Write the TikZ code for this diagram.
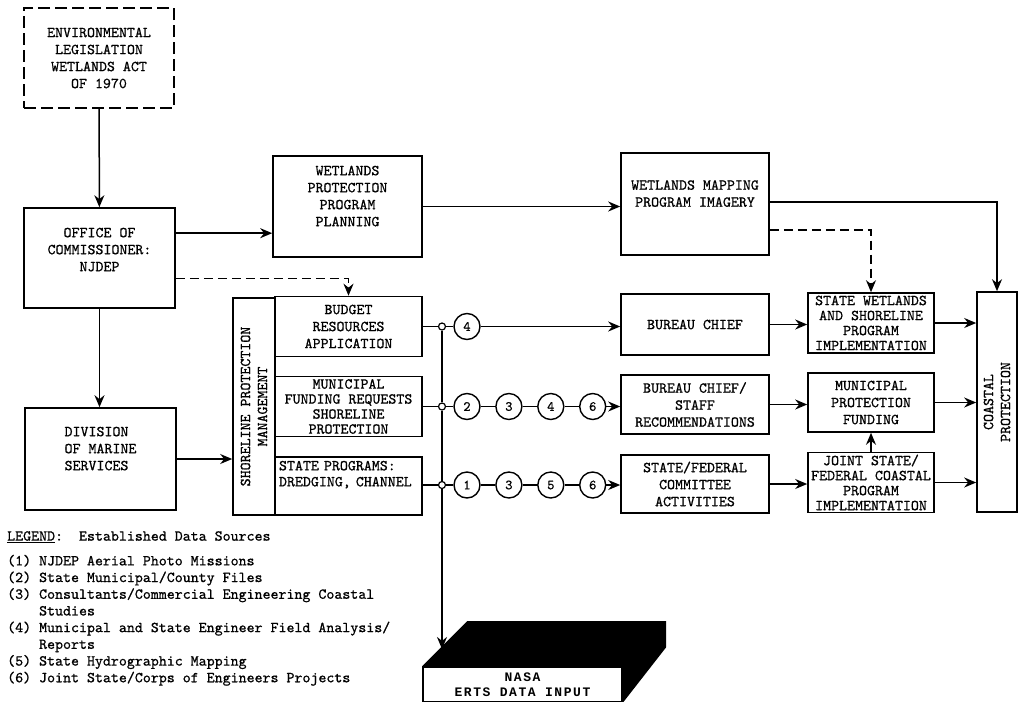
\documentclass[tikz,border=0pt]{standalone}
\usepackage{fontspec}
\setmonofont{lmmono10-regular}[Extension=.otf, FakeBold=0.8]
\newfontfamily\nasafont[LetterSpace=12]{Liberation Mono}
\usetikzlibrary{positioning,arrows.meta,calc}
\newcommand{\boxfont}{\ttfamily\fontsize{15.2}{17}\selectfont}
\newcommand{\tightfont}{\ttfamily\fontsize{15.2}{15}\selectfont}
\tikzset{
  box/.style={draw, line width=1.6pt, align=center, inner sep=2pt, font=\boxfont},
  tightbox/.style={box, font=\tightfont, inner xsep=1pt},
  vbox/.style={box, rotate=90},
  src/.style={circle, draw, line width=1.4pt, minimum size=26pt, inner sep=0pt,
              font=\ttfamily\fontsize{14}{14}\selectfont},
  jn/.style={circle, draw, fill=white, line width=1.2pt, minimum size=7pt, inner sep=0pt},
  edge/.style={-{Stealth[length=12pt,width=10pt]}, line width=1.5pt},
  plain/.style={line width=1.5pt},
  dashedge/.style={edge, dash pattern=on 9pt off 5pt}
}
\begin{document}
\begin{tikzpicture}[x=1pt,y=-1pt]
  \useasboundingbox (0,0) rectangle (1021,702);
  % left column
  \node[box, dash pattern=on 12pt off 5pt, minimum width=150pt, minimum height=100pt] (env) at (99,58)
    {ENVIRONMENTAL\\LEGISLATION\\WETLANDS ACT\\OF 1970};
  \node[box, minimum width=151pt, minimum height=100pt] (office) at (99.5,258)
    {OFFICE OF\\COMMISSIONER:\\NJDEP\\[0pt]};
  \node[box, align=left, minimum width=151pt, minimum height=102pt] (division) at (100.5,459)
    {DIVISION\\OF MARINE\\SERVICES\\[4pt]};
  % shoreline management block
  \node[vbox, minimum width=217pt, minimum height=42pt] (shore) at (254,406.5)
    {SHORELINE PROTECTION\\MANAGEMENT};
  \node[box, minimum width=147pt, minimum height=60pt] (budget) at (348.5,326.5)
    {BUDGET\\RESOURCES\\APPLICATION};
  \node[tightbox, minimum width=147pt, minimum height=60pt] (munreq) at (348.5,406.5)
    {MUNICIPAL\\FUNDING REQUESTS\\SHORELINE\\PROTECTION};
  \node[box, font=\ttfamily\fontsize{15.2}{16}\selectfont, align=left, text width=139pt, inner xsep=4pt,
        minimum height=58pt] (stprog) at (348.5,486)
    {STATE PROGRAMS:\\DREDGING, CHANNEL\\[4pt]\strut};
  \node[box, minimum width=149pt, minimum height=101pt] (wprot) at (347.5,206.5)
    {WETLANDS\\PROTECTION\\PROGRAM\\PLANNING\\[4pt]};
  % bureau column
  \node[box, minimum width=148pt, minimum height=102pt] (wmap) at (695,204)
    {WETLANDS MAPPING\\PROGRAM IMAGERY\\[4pt]};
  \node[box, minimum width=148pt, minimum height=61pt] (bureau) at (695,324.5) {BUREAU CHIEF};
  \node[box, minimum width=148pt, minimum height=59pt] (bstaff) at (695,404.5)
    {BUREAU CHIEF/\\STAFF\\RECOMMENDATIONS};
  \node[box, minimum width=148pt, minimum height=58pt] (sfcom) at (695,484)
    {STATE/FEDERAL\\COMMITTEE\\ACTIVITIES};
  % implementation column
  \node[tightbox, minimum width=126pt, minimum height=60pt] (swet) at (871,323)
    {STATE WETLANDS\\AND SHORELINE\\PROGRAM\\IMPLEMENTATION};
  \node[box, minimum width=126pt, minimum height=59pt] (munfund) at (871,402.5)
    {MUNICIPAL\\PROTECTION\\FUNDING};
  \node[tightbox, minimum width=126pt, minimum height=59pt] (joint) at (871,482.5)
    {JOINT STATE/\\FEDERAL COASTAL\\PROGRAM\\IMPLEMENTATION};
  \node[vbox, minimum width=220pt, minimum height=40pt] (coastal) at (997,402)
    {COASTAL\\PROTECTION};
  % data sources
  \node[jn] (j1) at (442,326.5) {};
  \node[jn] (j2) at (442,406.5) {};
  \node[jn] (j3) at (442,485) {};
  \node[src] (c14) at (467,326.5) {4};
  \node[src] (c22) at (467,406.5) {2};
  \node[src, right=14.5pt of c22] (c23) {3};
  \node[src, right=14.5pt of c23] (c24) {4};
  \node[src, right=14.5pt of c24] (c26) {6};
  \node[src] (c31) at (467,485) {1};
  \node[src, right=14.5pt of c31] (c33) {3};
  \node[src, right=14.5pt of c33] (c35) {5};
  \node[src, right=14.5pt of c35] (c36) {6};
  % NASA block
  \node[box, fill=white, minimum width=199pt, minimum height=35pt, inner sep=1pt,
        font=\nasafont\bfseries\fontsize{13}{15.5}\selectfont] (nasa) at (522.5,684.5) {NASA\\ERTS DATA INPUT};
  \fill (nasa.north west) -- ++(45,-45) -- ++(199,0) -- ++(0,26) -- (nasa.south east)
    -- (nasa.north east) -- cycle;
  \coordinate (bustip) at (442,649);
  % legend
  \node[anchor=north west, align=left, inner sep=0pt, font=\ttfamily\fontsize{15.2}{16.7}\selectfont] (legend) at (7,531)
    {\underline{LEGEND}:~~Established Data Sources\\[8pt]
     (1) NJDEP Aerial Photo Missions\\
     (2) State Municipal/County Files\\
     (3) Consultants/Commercial Engineering Coastal\\
     \phantom{(3)~}Studies\\
     (4) Municipal and State Engineer Field Analysis/\\
     \phantom{(4)~}Reports\\
     (5) State Hydrographic Mapping\\
     (6) Joint State/Corps of Engineers Projects};

  % connectors
  \coordinate (a1) at ($(wprot.north west)!0.76!(wprot.south west)$);
  \draw[edge] (env) -- (office);
  \draw[edge] (office.south) -- (office.south |- division.north);
  \draw[edge] (office.east |- a1) -- (a1);
  \draw[dashedge] ($(office.north east)!0.7!(office.south east)$) -| (budget.north);
  \draw[edge] (division.east) -- (division.east -| shore.north);
  \draw[edge] (wprot.east) -- (wprot.east -| wmap.west);
  \draw[edge] ($(wmap.north east)!0.48!(wmap.south east)$) -| (coastal.east);
  \draw[dashedge] ($(wmap.north east)!0.75!(wmap.south east)$) -| (swet.north);
  \draw[plain] (budget.east |- j1) -- (j1) -- (c14);
  \draw[edge] (c14) -- (c14 -| bureau.west);
  \draw[plain] (munreq.east |- j2) -- (j2) -- (c22) -- (c23) -- (c24) -- (c26);
  \draw[edge] (c26) -- (c26 -| bstaff.west);
  \draw[plain] (stprog.east |- j3) -- (j3) -- (c31) -- (c33) -- (c35) -- (c36);
  \draw[edge] (c36) -- (c36 -| sfcom.west);
  \draw[plain] (j1) -- (j2) -- (j3);
  \draw[edge] (j3) -- (bustip);
  \draw[edge] (bureau.east) -- (bureau.east -| swet.west);
  \draw[edge] (bstaff.east) -- (bstaff.east -| munfund.west);
  \draw[edge] (sfcom.east) -- (sfcom.east -| joint.west);
  \draw[edge] (swet.east) -- (swet.east -| coastal.north);
  \draw[edge] (munfund.east) -- (munfund.east -| coastal.north);
  \draw[edge] (joint.east) -- (joint.east -| coastal.north);
  \draw[edge] (joint.north) -- (munfund.south);
\end{tikzpicture}
\end{document}
